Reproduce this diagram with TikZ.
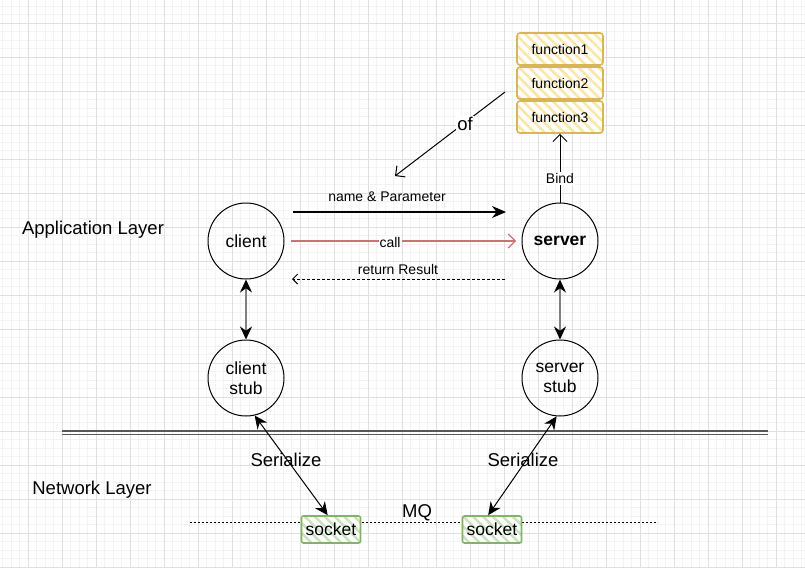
\documentclass[tikz,border=0pt]{standalone}
\usepackage{fontspec}
\setmainfont{Liberation Sans}
\usetikzlibrary{arrows.meta,patterns.meta}
\definecolor{gridminor}{HTML}{F3F3F3}
\definecolor{gridmajor}{HTML}{E0E0E0}
\definecolor{funcline}{HTML}{D6B656}
\definecolor{funcfill}{HTML}{FBE6A6}
\definecolor{sockline}{HTML}{82B366}
\definecolor{sockfill}{HTML}{C9E2C0}
\definecolor{callred}{HTML}{C97474}
\tikzset{
  proc/.style={circle, draw, minimum size=76pt, inner sep=0pt, align=center,
    font=\fontsize{17.5}{20}\selectfont},
  func/.style={draw=funcline, line width=1.6pt, rounded corners=3pt,
    preaction={fill=white},
    pattern={Lines[angle=-45,distance=7pt,line width=2.5pt]}, pattern color=funcfill,
    minimum width=86pt, minimum height=32pt, inner sep=0pt,
    font=\fontsize{14}{16}\selectfont},
  sock/.style={draw=sockline, line width=1.6pt, rounded corners=2pt,
    preaction={fill=white},
    pattern={Lines[angle=-45,distance=7pt,line width=2.5pt]}, pattern color=sockfill,
    minimum width=59pt, minimum height=27pt, inner sep=0pt,
    font=\fontsize{17.5}{20}\selectfont},
  lbl/.style={fill=white, inner sep=1pt, font=\fontsize{14}{16}\selectfont},
  layer/.style={font=\fontsize{18.5}{21}\selectfont},
  big/.style={-{Stealth[length=14pt,width=12pt]}},
  open/.style={-{Straight Barb[length=7pt,width=14pt]}},
  both/.style={{Stealth[length=13pt,width=12pt,black]}-{Stealth[length=13pt,width=12pt,black]}},
}
\begin{document}
\begin{tikzpicture}[x=1pt,y=-1pt,line width=1pt]
\useasboundingbox[fill=white] (0,0) rectangle (805,568);
\foreach \x in {0,...,94}
	\draw[gridminor] (2.5+8.5*\x, 0) -- (2.5+8.5*\x, 568);
\foreach \y in {0,...,66}
	\draw[gridminor] (0, 6+8.5*\y) -- (805, 6+8.5*\y);
\foreach \x in {0,...,23}
	\draw[gridmajor] (28+34*\x, 0) -- (28+34*\x, 568);
\foreach \y in {0,...,16}
	\draw[gridmajor] (0, 23+34*\y) -- (805, 23+34*\y);

\node[layer] (app) at (93,230) {Application Layer};
\node[layer] (net) at (92,490) {Network Layer};

\node[proc] (client) at (246,241) {client};
\node[proc, font=\fontsize{17.5}{20}\selectfont\bfseries] (server) at (560,241) {server};
\node[proc] (cstub) at (246,378) {client\\stub};
\node[proc] (sstub) at (560,378) {server\\stub};

\foreach \i/\y in {1/49, 2/83, 3/117}
	\node[func] (f\i) at (560,\y) {function\i};

\draw[black!65, line width=1.2pt] (62,431) -- (768,431);
\draw[black!65, line width=1.2pt] (62,434.5) -- (768,434.5);

\coordinate (mqL) at (190,522);
\coordinate (mqR) at (658,522);
\draw[dash pattern=on 2pt off 2pt] (mqL) -- (mqR);
\node[font=\fontsize{18.5}{21}\selectfont] (mq) at (417,513) {MQ};
\node[sock] (sockL) at (331,529.5) {socket};
\node[sock] (sockR) at (492,529.5) {socket};

\coordinate (npS) at (293,212);
\coordinate (npE) at (506,212);
\draw[big, line width=1.3pt] (npS) -- (npE);
\node[font=\fontsize{14}{16}\selectfont] (np) at (387,197) {name \& Parameter};

\coordinate (callS) at (291,241);
\coordinate (callE) at (516,241);
\draw[open, callred, line width=1.2pt] (callS) -- (callE);
\node[lbl] (call) at (390,242) {call};

\coordinate (retS) at (505,279);
\coordinate (retE) at (292,279);
\draw[-{Straight Barb[length=5pt,width=10pt]}, dash pattern=on 3pt off 2pt] (retS) -- (retE);
\node[font=\fontsize{14}{16}\selectfont] (ret) at (398,269) {return Result};

\draw[open] (server.north) -- (f3.south) node[pos=0.35, lbl] (bind) {Bind};

\coordinate (ofS) at (505,92);
\coordinate (ofE) at (395,176);
\draw[open] (ofS) -- (ofE);
\node[lbl, font=\fontsize{18.5}{21}\selectfont] (of) at (465,124) {of};

\draw[both, line width=1.6pt, draw=black!50] (client.south) -- (cstub.north);
\draw[both, line width=1.6pt, draw=black!50] (server.south) -- (sstub.north);

\draw[both] (cstub.-77) -- (sockL.103);
\draw[both] (sstub.-95) -- (sockR.105);
\node[font=\fontsize{18.5}{21}\selectfont] (serL) at (286,460) {Serialize};
\node[font=\fontsize{18.5}{21}\selectfont] (serR) at (523,460) {Serialize};
\end{tikzpicture}
\end{document}
